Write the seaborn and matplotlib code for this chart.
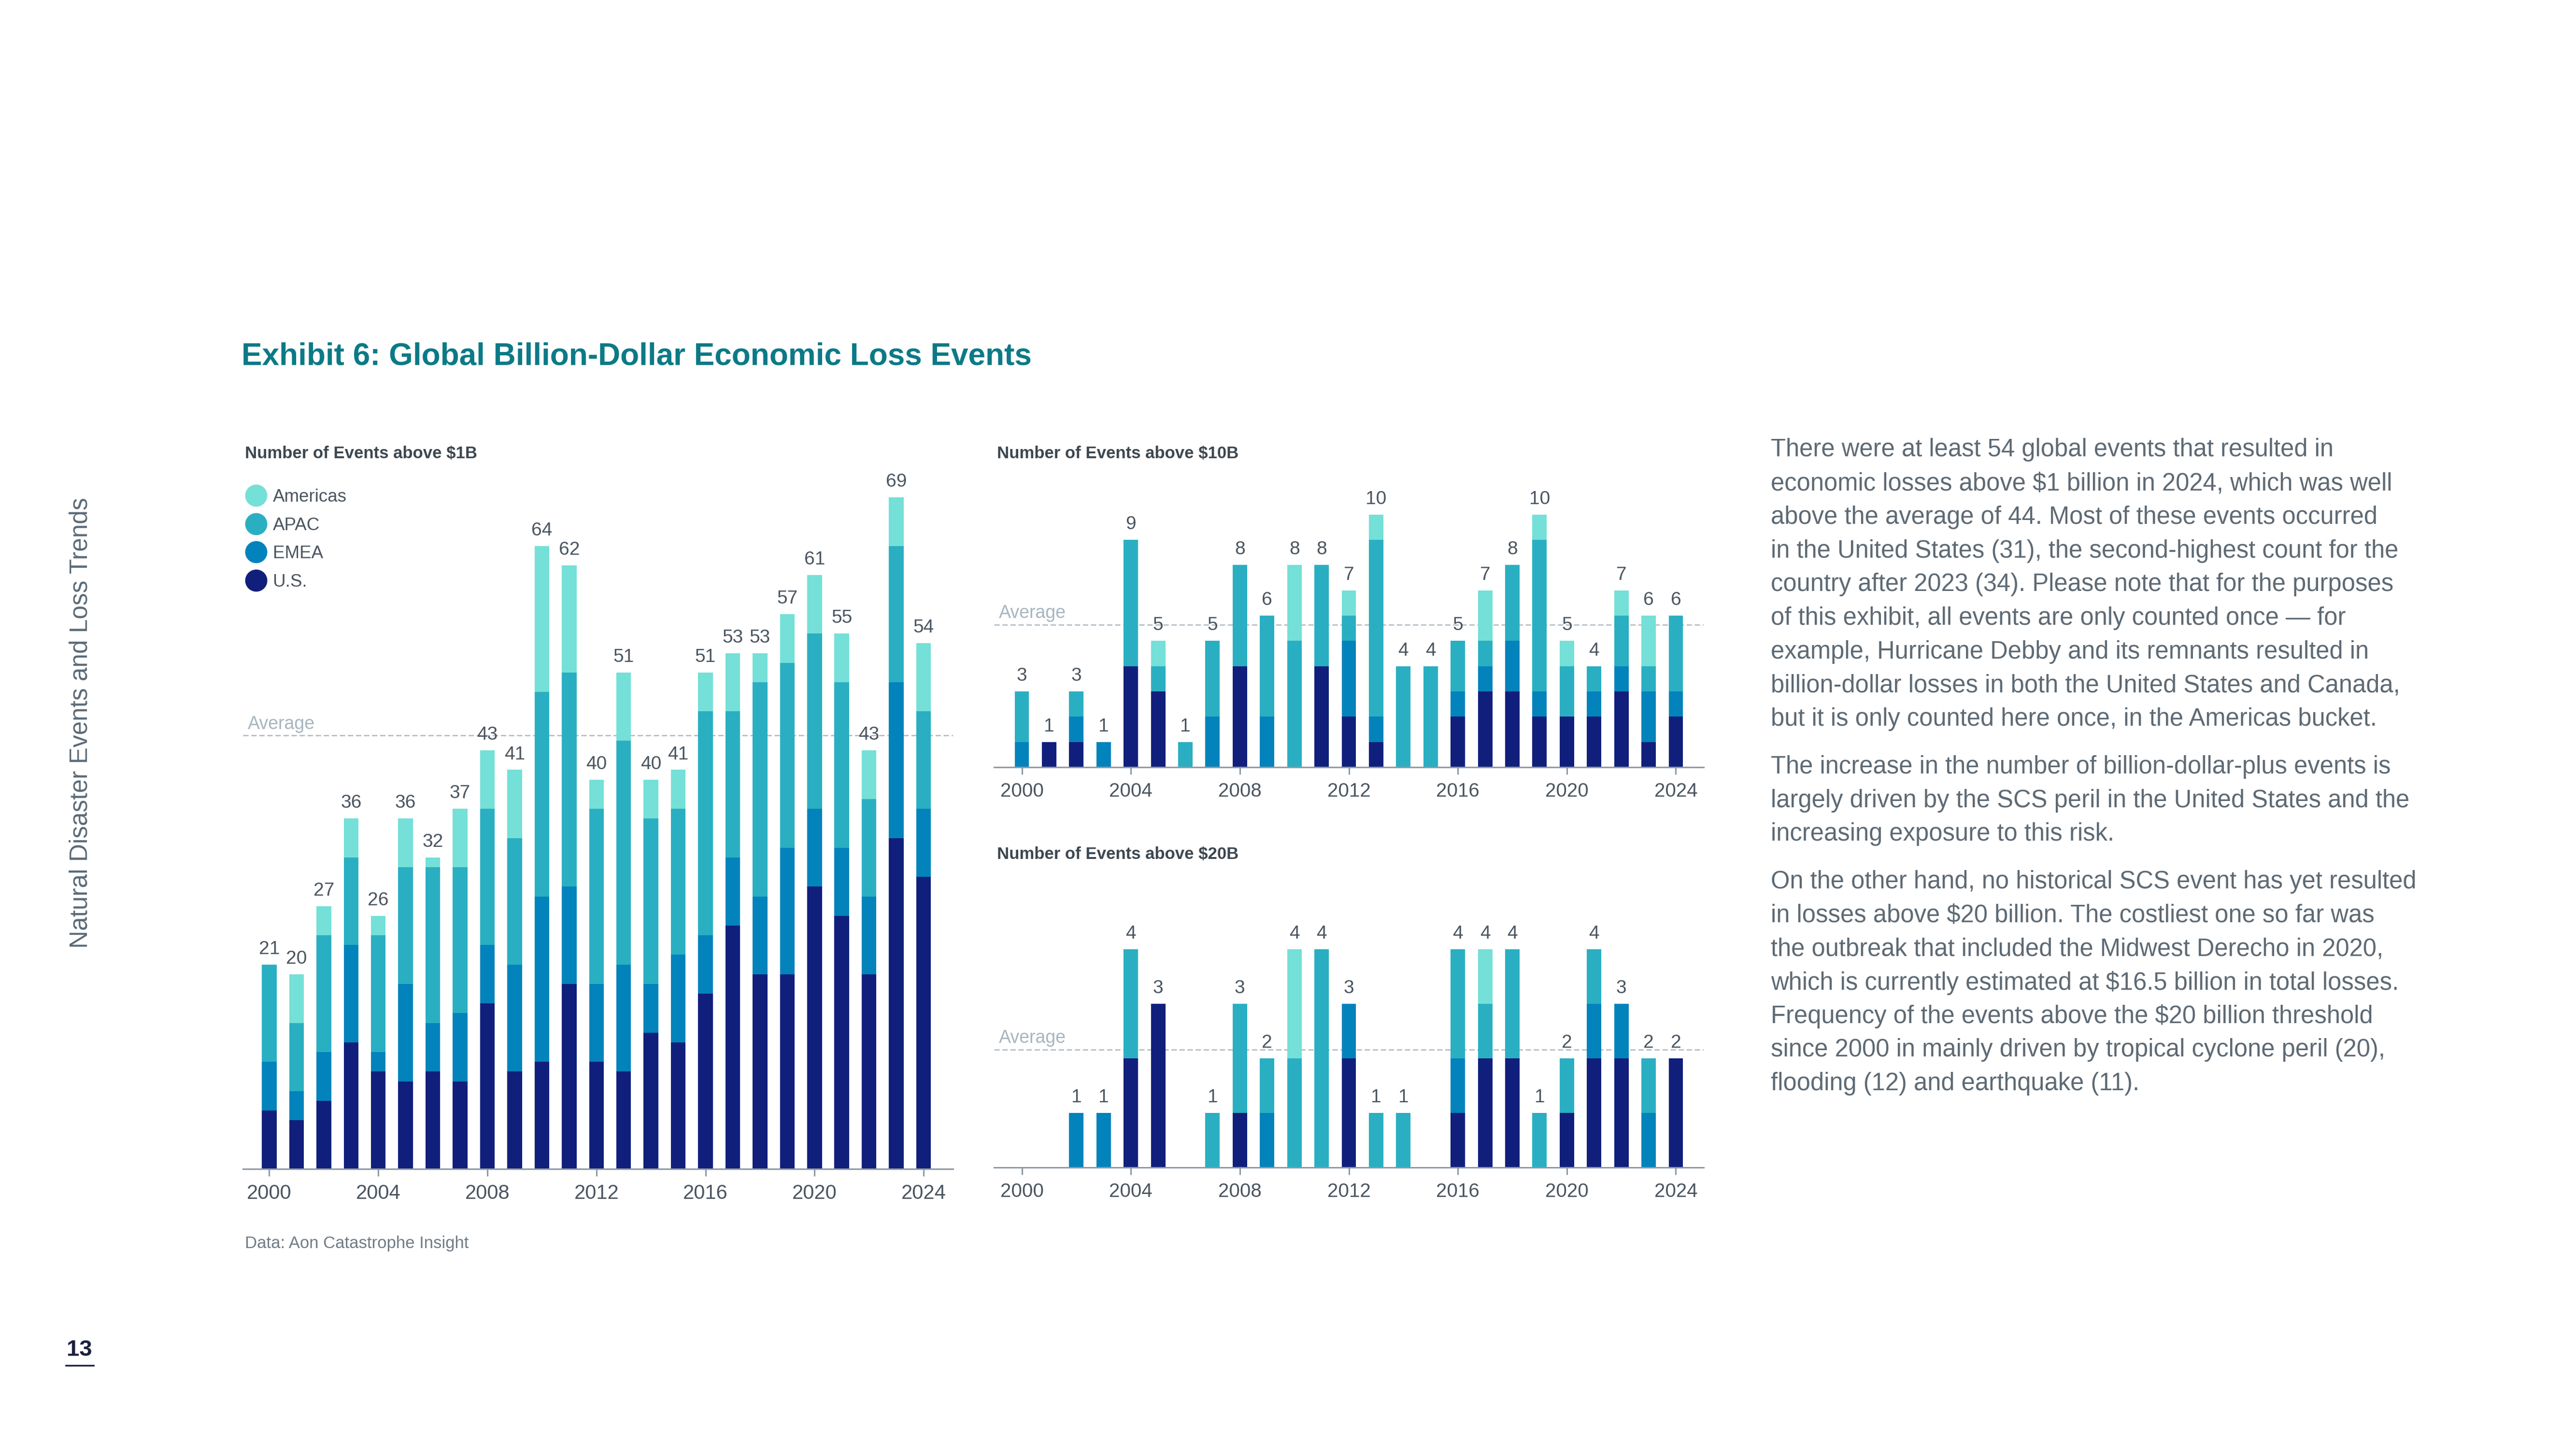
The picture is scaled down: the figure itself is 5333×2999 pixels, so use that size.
import numpy as np
import pandas as pd
import matplotlib.pyplot as plt
import seaborn as sns
from matplotlib.lines import Line2D

years = list(range(2000, 2025))
regions = ["Americas", "APAC", "EMEA", "U.S."]
colors = {"Americas": "#74E0D7", "APAC": "#2AAFC2", "EMEA": "#0383BB", "U.S.": "#111F7C"}

# events above $1B
us_1b = [6, 5, 7, 13, 10, 9, 10, 9, 17, 10, 11, 19, 11, 10, 14, 13, 18, 25, 20, 20, 29, 26, 20, 34, 30]
emea_1b = [5, 3, 5, 10, 2, 10, 5, 7, 6, 11, 17, 10, 8, 11, 5, 9, 6, 7, 8, 13, 8, 7, 8, 16, 7]
apac_1b = [10, 7, 12, 9, 12, 12, 16, 15, 14, 13, 21, 22, 18, 23, 17, 15, 23, 15, 22, 19, 18, 17, 10, 14, 10]
amer_1b = [0, 5, 3, 4, 2, 5, 1, 6, 6, 7, 15, 11, 3, 7, 4, 4, 4, 6, 3, 5, 6, 5, 5, 5, 7]

# events above $10B
us_10b = [0, 1, 1, 0, 4, 3, 0, 0, 4, 0, 0, 4, 2, 1, 0, 0, 2, 3, 3, 2, 2, 2, 3, 1, 2]
emea_10b = [1, 0, 1, 1, 0, 0, 0, 2, 0, 2, 0, 0, 3, 1, 0, 0, 1, 1, 2, 1, 0, 1, 1, 2, 1]
apac_10b = [2, 0, 1, 0, 5, 1, 1, 3, 4, 4, 5, 4, 1, 7, 4, 4, 2, 1, 3, 6, 2, 1, 2, 1, 3]
amer_10b = [0, 0, 0, 0, 0, 1, 0, 0, 0, 0, 3, 0, 1, 1, 0, 0, 0, 2, 0, 1, 1, 0, 1, 2, 0]

# events above $20B
us_20b = [0, 0, 0, 0, 2, 3, 0, 0, 1, 0, 0, 0, 2, 0, 0, 0, 1, 2, 2, 0, 1, 2, 2, 0, 2]
emea_20b = [0, 0, 1, 1, 0, 0, 0, 0, 0, 1, 0, 0, 1, 0, 0, 0, 1, 0, 0, 0, 0, 1, 1, 1, 0]
apac_20b = [0, 0, 0, 0, 2, 0, 0, 1, 2, 1, 2, 4, 0, 1, 1, 0, 2, 1, 2, 1, 1, 1, 0, 1, 0]
amer_20b = [0, 0, 0, 0, 0, 0, 0, 0, 0, 0, 2, 0, 0, 0, 0, 0, 0, 1, 0, 0, 0, 0, 0, 0, 0]

paragraphs = [
    ["There were at least 54 global events that resulted in",
     "economic losses above $1 billion in 2024, which was well",
     "above the average of 44. Most of these events occurred",
     "in the United States (31), the second-highest count for the",
     "country after 2023 (34). Please note that for the purposes",
     "of this exhibit, all events are only counted once \u2014 for",
     "example, Hurricane Debby and its remnants resulted in",
     "billion-dollar losses in both the United States and Canada,",
     "but it is only counted here once, in the Americas bucket."],
    ["The increase in the number of billion-dollar-plus events is",
     "largely driven by the SCS peril in the United States and the",
     "increasing exposure to this risk."],
    ["On the other hand, no historical SCS event has yet resulted",
     "in losses above $20 billion. The costliest one so far was",
     "the outbreak that included the Midwest Derecho in 2020,",
     "which is currently estimated at $16.5 billion in total losses.",
     "Frequency of the events above the $20 billion threshold",
     "since 2000 in mainly driven by tropical cyclone peril (20),",
     "flooding (12) and earthquake (11)."],
]

sns.set_theme(style="white")
plt.rcParams['font.family'] = ['Liberation Sans', 'DejaVu Sans']

W, H = 5333, 2999
LABEL = "#4A5560"
AXIS = "#8E99A3"
AVG = "#B3BEC6"


def make_df(us, emea, apac, amer):
    return pd.DataFrame({"year": [str(y) for y in years], "U.S.": us, "EMEA": emea,
                         "APAC": apac, "Americas": amer})


def stacked_chart(ax, df, ymax, width, label_size, tick_size):
    # draw cumulative layers from the top segment down
    order = ["U.S.", "EMEA", "APAC", "Americas"]
    cum = df[order].cumsum(axis=1)
    for reg in order[::-1]:
        sns.barplot(x=df["year"], y=cum[reg], color=colors[reg], width=width,
                    saturation=1, linewidth=0, errorbar=None, ax=ax)
    totals = cum["Americas"].values
    for i, t in enumerate(totals):
        if t > 0:
            ax.annotate(str(t), (i, t), xytext=(0, 10), textcoords="offset points",
                        ha="center", va="bottom", fontsize=label_size, color=LABEL)
    avg = totals.mean()
    ax.axhline(avg, color=AVG, lw=2.0, ls=(0, (4, 2)), zorder=0.5)
    ax.annotate("Average", (0, avg), xycoords=("axes fraction", "data"), xytext=(7, 4),
                textcoords="offset points", ha="left", va="bottom", fontsize=27, color="#A8B6C0")
    ax.set_ylim(0, ymax)
    ax.set_xlabel("")
    ax.set_ylabel("")
    ax.set_yticks([])
    ax.set_xticks(range(0, 25, 4))
    ax.set_xticklabels([str(y) for y in years[::4]])
    for s in ["top", "right", "left"]:
        ax.spines[s].set_visible(False)
    ax.spines["bottom"].set_color(AXIS)
    ax.spines["bottom"].set_linewidth(2.2)
    ax.tick_params(axis="x", bottom=True, length=11, width=2.2, color=AXIS,
                   labelsize=tick_size, labelcolor=LABEL, pad=11)


fig = plt.figure(figsize=(W / 100, H / 100), dpi=100)

# left chart: above $1B
ax1 = fig.add_axes([503 / W, 1 - 2421 / H, 1470 / W, 1512 / H])
stacked_chart(ax1, make_df(us_1b, emea_1b, apac_1b, amer_1b), 75, 0.54, 28, 30)
ax1.set_xlim(-0.965, 25.08)

# top right: above $10B
ax2 = fig.add_axes([2058 / W, 1 - 1589 / H, 1469 / W, 602 / H])
stacked_chart(ax2, make_df(us_10b, emea_10b, apac_10b, amer_10b), 11.5, 0.53, 28, 29)
ax2.set_xlim(-1.02, 25.02)

# bottom right: above $20B
ax3 = fig.add_axes([2058 / W, 1 - 2418 / H, 1469 / W, 565 / H])
stacked_chart(ax3, make_df(us_20b, emea_20b, apac_20b, amer_20b), 5, 0.53, 28, 29)
ax3.set_xlim(-1.02, 25.02)

# legend with round markers
handles = [Line2D([], [], marker="o", ls="", markersize=33, markerfacecolor=colors[r],
                  markeredgewidth=0) for r in regions]
fig.legend(handles, regions, loc="upper left", bbox_to_anchor=(513 / W, 1 - 1012 / H),
           frameon=False, fontsize=26.5, handlelength=0.9, handletextpad=0.5,
           labelspacing=0.64, borderpad=0, borderaxespad=0, labelcolor="#4A5560")

# titles and notes
fig.text(500 / W, 1 - 738 / H, "Exhibit 6: Global Billion-Dollar Economic Loss Events",
         fontsize=46, fontweight="bold", color="#0B7A86", ha="left", va="center")
sub_kw = dict(fontsize=25, fontweight="bold", color="#3D4750", ha="left", va="center")
fig.text(507 / W, 1 - 939 / H, "Number of Events above $1B", **sub_kw)
fig.text(2064 / W, 1 - 939 / H, "Number of Events above $10B", **sub_kw)
fig.text(2064 / W, 1 - 1769 / H, "Number of Events above $20B", **sub_kw)
fig.text(507 / W, 1 - 2575 / H, "Data: Aon Catastrophe Insight", fontsize=25,
         color="#707C86", ha="left", va="center")

# side header and page number
fig.text(167 / W, 1 - 1497 / H, "Natural Disaster Events and Loss Trends", fontsize=37,
         color="#5B6B78", rotation=90, ha="center", va="center")
fig.text(164 / W, 1 - 2796 / H, "13", fontsize=34, fontweight="bold", color="#1C2040",
         ha="center", va="center")
fig.add_artist(Line2D([136 / W, 194 / W], [1 - 2828 / H] * 2, lw=2.5, color="#1C2040"))

# commentary text
y = 932
for p, lines in enumerate(paragraphs):
    for line in lines:
        fig.text(3666 / W, 1 - y / H, line, fontsize=36.5, color="#5E6A74", ha="left", va="center")
        y += 69.7
    y += 29

fig.savefig("out.png", dpi=100)
